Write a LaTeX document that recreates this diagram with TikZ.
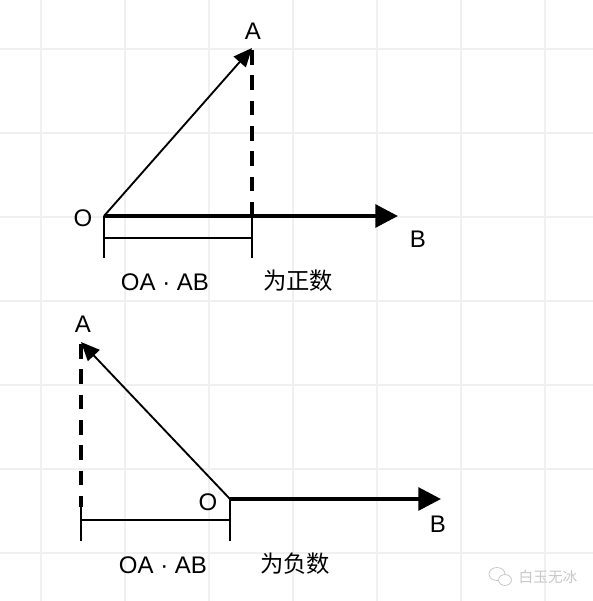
\documentclass[tikz,border=0pt]{standalone}
\usepackage{fontspec}
\setmainfont{Liberation Sans}
\newfontfamily\cjk{Noto Sans CJK SC}
\usetikzlibrary{arrows.meta}
\definecolor{gridc}{HTML}{F0F0F0}
\definecolor{wmark}{HTML}{C8C8C8}
\tikzset{
  gridline/.style={draw=gridc, line width=0.8pt},
  axisline/.style={line width=3pt, -{Triangle[length=17pt,width=17pt]}},
  vecline/.style={line width=1.4pt, -{Triangle[length=14pt,width=12pt]}},
  projline/.style={line width=3pt, dash pattern=on 11pt off 8pt},
  bracketline/.style={line width=1.1pt},
  lbl/.style={inner sep=0pt, font=\fontsize{18}{21}\selectfont},
  cjklbl/.style={inner sep=0pt, font=\fontsize{17.5}{21}\selectfont\cjk},
}
\begin{document}
\begin{tikzpicture}[x=0.75pt,y=-0.75pt]
\useasboundingbox (0,0) rectangle (593,601);
\fill[white] (0,0) rectangle (593,601);
% grid
\foreach \gx in {41,125,209,293,377,461,545} \draw[gridline] (\gx,0) -- (\gx,601);
\foreach \gy in {49,133,217,301,385,469,553} \draw[gridline] (0,\gy) -- (593,\gy);

% ---------- top diagram ----------
\coordinate (O1) at (104,216);
\coordinate (A1) at (252,48);
\coordinate (B1) at (398,216);
\coordinate (P1) at (252,216);
\coordinate (A1f) at (252,50);
\coordinate (O1t) at (104,258);
\coordinate (P1t) at (252,258);
\coordinate (O1m) at (104,238);
\coordinate (P1m) at (252,238);
\draw[projline] (A1f) -- (P1);
\draw[axisline] (O1) -- (B1);
\draw[vecline] (O1) -- (A1);
\draw[bracketline] (O1) -- (O1t);
\draw[bracketline] (P1) -- (P1t);
\draw[bracketline] (O1m) -- (P1m);
\node[lbl] (lA1) at (253,31) {A};
\node[lbl] (lO1) at (83,218) {O};
\node[lbl] (lB1) at (418,239) {B};
\node[lbl] (lD1) at (165,282) {OA · AB};
\node[cjklbl] (lS1) at (298,281) {为正数};

% ---------- bottom diagram ----------
\coordinate (O2) at (230,499);
\coordinate (A2) at (81,342);
\coordinate (B2) at (441,499);
\coordinate (A2f) at (81,344);
\coordinate (P2) at (81,507);
\coordinate (P2t) at (81,541);
\coordinate (O2t) at (230,541);
\coordinate (P2m) at (81,520);
\coordinate (O2m) at (230,520);
\draw[projline] (A2f) -- (P2);
\draw[axisline] (O2) -- (B2);
\draw[vecline] (O2) -- (A2);
\draw[bracketline] (P2) -- (P2t);
\draw[bracketline] (O2) -- (O2t);
\draw[bracketline] (P2m) -- (O2m);
\node[lbl] (lA2) at (83,324) {A};
\node[lbl] (lO2) at (208,502) {O};
\node[lbl] (lB2) at (438,524) {B};
\node[lbl] (lD2) at (163,565) {OA · AB};
\node[cjklbl] (lS2) at (295,564) {为负数};

% ---------- watermark ----------
\node[inner sep=0pt, text=wmark, font=\fontsize{11}{13}\selectfont\cjk] (wm) at (548,577) {白玉无冰};
\draw[wmark, line width=0.6pt] (497,574) ellipse (8 and 6.5);
\draw[wmark, line width=0.6pt, fill=white] (505,580) ellipse (6.5 and 5.5);
\end{tikzpicture}
\end{document}
